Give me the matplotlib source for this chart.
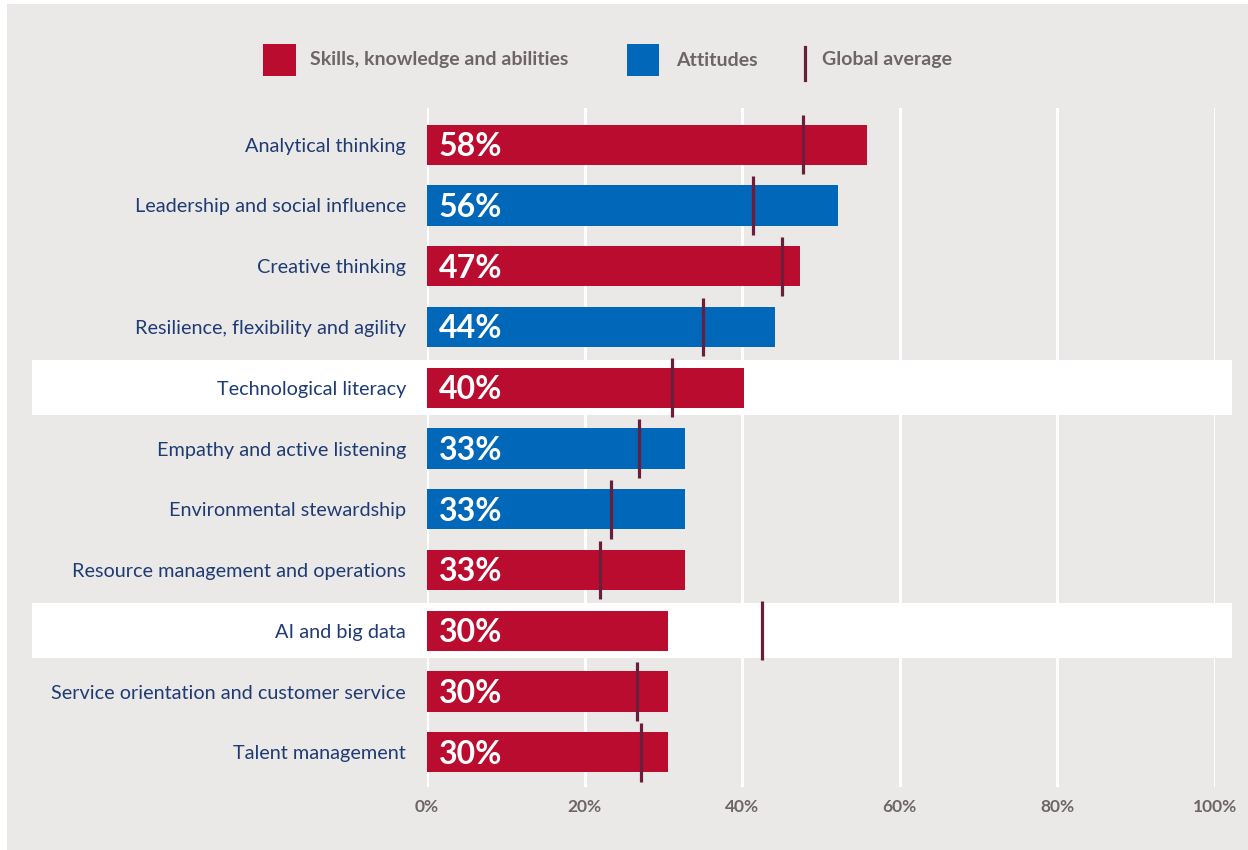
import numpy as np
import matplotlib.pyplot as plt
from matplotlib.patches import Rectangle
from matplotlib.lines import Line2D

skills = ["Analytical thinking", "Leadership and social influence", "Creative thinking",
          "Resilience, flexibility and agility", "Technological literacy",
          "Empathy and active listening", "Environmental stewardship",
          "Resource management and operations", "AI and big data",
          "Service orientation and customer service", "Talent management"]
pct_labels = [58, 56, 47, 44, 40, 33, 33, 33, 30, 30, 30]
bar_len = [55.9, 52.1, 47.3, 44.2, 40.2, 32.7, 32.7, 32.7, 30.6, 30.6, 30.6]
global_avg = [47.7, 41.4, 45.0, 35.0, 31.1, 26.9, 23.3, 21.9, 42.5, 26.7, 27.2]
kind = ["skill", "attitude", "skill", "attitude", "skill", "attitude", "attitude",
        "skill", "skill", "skill", "skill"]
highlight = ["Technological literacy", "AI and big data"]
xticks = [0, 20, 40, 60, 80, 100]

RED = "#ba0c2f"
BLUE = "#0067b9"
MAROON = "#6b1d3c"
BG = "#ebe9e8"
NAVY = "#1f3b73"
GREY = "#6e6567"

plt.rcParams['font.family'] = ['Lato', 'DejaVu Sans']

W, H = 1248, 850
fig = plt.figure(figsize=(W / 100, H / 100), dpi=100)
fig.patch.set_facecolor("white")

def fx(x):
    return x / W

def fy(y):
    return 1 - y / H

# grey panel
fig.add_artist(Rectangle((fx(7), 0), 1 - fx(7), fy(4), transform=fig.transFigure,
                         facecolor=BG, edgecolor="none", zorder=-10))

ax = fig.add_axes([fx(427), fy(787), fx(1215) - fx(427), (787 - 108) / H])
ax.set_facecolor("none")
ax.set_xlim(0, 100)
ax.set_ylim(10.571, -0.604)

y = np.arange(len(skills))

for i, s in enumerate(skills):
    if s in highlight:
        ax.axhspan(i - 0.45, i + 0.45, xmin=(32 - 427) / 788, xmax=(1232 - 427) / 788,
                   facecolor="white", edgecolor="none", clip_on=False, zorder=0)

for xt in xticks:
    ax.axvline(xt, color="white", lw=2.2, zorder=1)

colors = [RED if k == "skill" else BLUE for k in kind]
ax.barh(y, bar_len, height=0.66, color=colors, zorder=2)

for i, p in enumerate(pct_labels):
    ax.text(1.5, i + 0.03, f"{p}%", color="white", fontsize=23, fontweight="bold",
            va="center", ha="left", zorder=3)

ax.vlines(global_avg, y - 0.485, y + 0.485, color=MAROON, lw=2.3, zorder=4)

ax.set_yticks(y)
ax.set_yticklabels(skills, fontsize=14.3, color=NAVY)
ax.set_xticks(xticks)
ax.set_xticklabels([f"{v}%" for v in xticks], fontsize=12.5, color=GREY, fontweight="bold")
ax.tick_params(axis="y", length=0, pad=15)
ax.tick_params(axis="x", length=0, pad=9)
for sp in ax.spines.values():
    sp.set_visible(False)

# legend
fig.add_artist(Rectangle((fx(263), fy(76)), fx(296) - fx(263), fy(44) - fy(76),
                         transform=fig.transFigure, facecolor=RED, edgecolor="none"))
fig.text(fx(310), fy(60), "Skills, knowledge and abilities", color=GREY, fontsize=14,
         fontweight="bold", va="center", ha="left")
fig.add_artist(Rectangle((fx(627), fy(76)), fx(659) - fx(627), fy(44) - fy(76),
                         transform=fig.transFigure, facecolor=BLUE, edgecolor="none"))
fig.text(fx(676), fy(60), "Attitudes", color=GREY, fontsize=14,
         fontweight="bold", va="center", ha="left")
fig.add_artist(Line2D([fx(805), fx(805)], [fy(47), fy(80)], transform=fig.transFigure,
                      color=MAROON, lw=2.3))
fig.text(fx(822), fy(60), "Global average", color=GREY, fontsize=14,
         fontweight="bold", va="center", ha="left")

fig.savefig("out.png", dpi=100)
